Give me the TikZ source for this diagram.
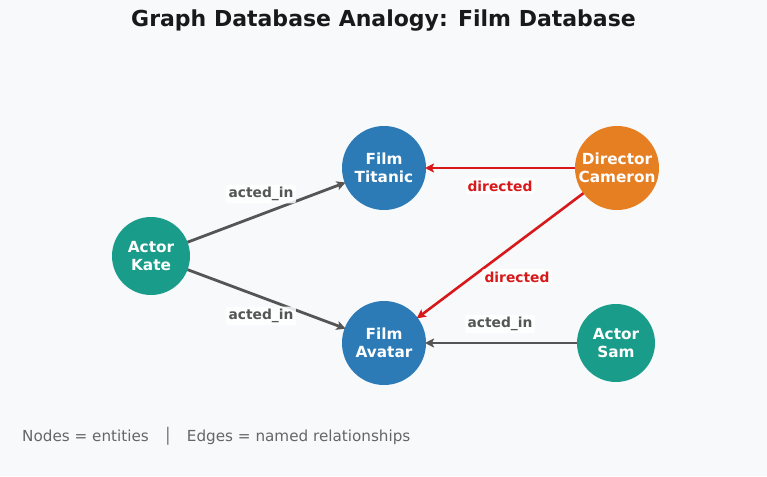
\documentclass[tikz,border=0pt]{standalone}
\usepackage{fontspec}
\setmainfont{DejaVu Sans}
\usetikzlibrary{arrows.meta}
\definecolor{bg}{HTML}{F8F9FB}
\definecolor{teal}{HTML}{1A9C8A}
\definecolor{blue}{HTML}{2C7BB6}
\definecolor{orange}{HTML}{E67E22}
\definecolor{red}{HTML}{D7191C}
\definecolor{edgegray}{HTML}{555555}
\definecolor{foot}{HTML}{666666}
\tikzset{
  ent/.style={circle, inner sep=0pt, outer sep=0pt, text=white, align=center,
    font=\fontsize{15.3}{18}\selectfont\bfseries},
  actor/.style={ent, fill=teal, minimum size=78pt},
  film/.style={ent, fill=blue, minimum size=84pt},
  director/.style={ent, fill=orange, minimum size=84pt},
  rel/.style={line width=2.8pt, -{Stealth[length=9pt,width=9pt,inset=2pt]}, shorten >=-1pt},
  actedge/.style={rel, draw=edgegray, fill=edgegray},
  diredge/.style={rel, draw=red, fill=red, line width=2.6pt},
  lbl/.style={fill=white, fill opacity=0.85, text opacity=1, rounded corners=2pt,
    inner sep=2.5pt, font=\fontsize{13.8}{16}\selectfont\bfseries},
  actlbl/.style={lbl, text=edgegray},
  dirlbl/.style={lbl, text=red},
}
\begin{document}
\begin{tikzpicture}[x=1pt,y=-1pt]
\fill[bg] (0,0) rectangle (767,476);
\useasboundingbox (0,0) rectangle (767,476);
\node[font=\fontsize{22}{24}\selectfont\bfseries, text=black!90] (title) at (383.5,21) {Graph Database Analogy: Film Database};
\node[actor] (kate) at (151,256) {Actor\\Kate};
\node[film] (titanic) at (384,168) {Film\\Titanic};
\node[film] (avatar) at (384,343) {Film\\Avatar};
\node[director] (cameron) at (617,168) {Director\\Cameron};
\node[actor] (sam) at (616,343) {Actor\\Sam};
\draw[actedge] (kate) -- (titanic);
\draw[actedge] (kate) -- (avatar);
\draw[diredge] (cameron) -- (titanic);
\draw[diredge] (cameron) -- (avatar);
\draw[actedge] (sam) -- (avatar);
\node[actlbl] (l1) at (261,194) {acted\_in};
\node[actlbl] (l2) at (261,316) {acted\_in};
\node[dirlbl] (l3) at (500,186) {directed};
\node[dirlbl] (l4) at (517,277) {directed};
\node[actlbl] (l5) at (500,324) {acted\_in};
\node[anchor=west, text=foot, font=\fontsize{15.2}{17}\selectfont, inner sep=0pt] (footer) at (22,436) {Nodes = entities\ \ \ │\ \ \ Edges = named relationships};
\end{tikzpicture}
\end{document}
